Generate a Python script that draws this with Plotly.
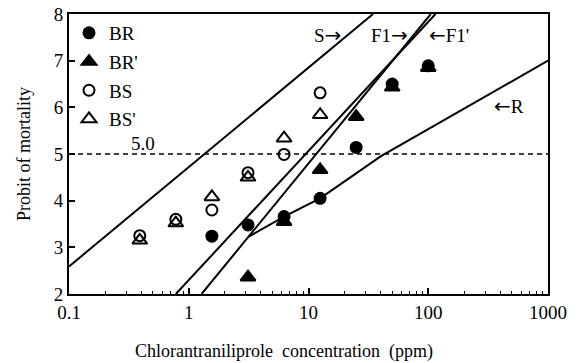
import math
import plotly.graph_objects as go

# ---- data ----
conc = [0.39, 0.78, 1.56, 3.125, 6.25, 12.5, 25, 50, 100]

BR_x = [1.56, 3.125, 6.25, 12.5, 25, 50, 100]
BR_y = [3.24, 3.48, 3.66, 4.05, 5.14, 6.50, 6.89]

BRp_x = [3.125, 6.25, 12.5, 25, 50, 100]
BRp_y = [2.36, 3.55, 4.66, 5.80, 6.43, 6.85]

BS_x = [0.39, 0.78, 1.56, 3.125, 6.25, 12.5]
BS_y = [3.25, 3.60, 3.80, 4.60, 4.99, 6.31]

BSp_x = [0.39, 0.78, 1.56, 3.125, 6.25, 12.5]
BSp_y = [3.15, 3.52, 4.08, 4.50, 5.34, 5.84]

# regression lines (end points)
S_x = [0.1, 34.6]
S_y = [2.59, 8.0]
F1_x = [1.28, 105]
F1_y = [2.0, 8.0]
F1p_x = [0.78, 115]
F1p_y = [2.0, 8.0]
R_x = [3.125, 6.25, 12.5, 40, 1000]
R_y = [3.22, 3.66, 4.05, 4.95, 7.0]

LC50_PROBIT = 5.0

tick_vals = [0.1, 1, 10, 100, 1000]
tick_text = ["0.1", "1", "10", "100", "1000"]

RA = "<span style='font-family:DejaVu Sans;font-size:20px'>\u2192</span>"
LA = "<span style='font-family:DejaVu Sans;font-size:20px'>\u2190</span>"
label_text = ["S" + RA, "F1" + RA, LA + "F1'", LA + "R", "5.0"]
label_x = [14.3, 47.4, 149, 472, 0.415]
label_y = [7.55, 7.55, 7.55, 6.03, 5.22]

FONT = "Liberation Serif"

fig = go.Figure()

for lx, ly in [(S_x, S_y), (F1_x, F1_y), (F1p_x, F1p_y), (R_x, R_y)]:
    fig.add_trace(go.Scatter(x=lx, y=ly, mode="lines",
                             line=dict(color="black", width=2),
                             showlegend=False, hoverinfo="skip"))

series = [
    ("BR", BR_x, BR_y, "circle"),
    ("BR'", BRp_x, BRp_y, "triangle-up"),
    ("BS", BS_x, BS_y, "circle-open"),
    ("BS'", BSp_x, BSp_y, "triangle-up-open"),
]
for name, sx, sy, sym in series:
    size = 11 if "circle" in sym else 13
    fig.add_trace(go.Scatter(
        x=sx, y=sy, mode="markers", name=name, legendgroup=name,
        marker=dict(symbol=sym, size=size, color="black",
                    line=dict(color="black", width=2)),
    ))

fig.add_hline(y=LC50_PROBIT, line=dict(color="black", width=1.3, dash="5px,4px"))

# annotations on a log axis take log10 positions
for txt, x, y in zip(label_text, label_x, label_y):
    fig.add_annotation(x=math.log10(x), y=y, text=txt, showarrow=False,
                       xref="x", yref="y", xanchor="center", yanchor="middle",
                       font=dict(family=FONT, size=19, color="black"))

fig.add_annotation(x=0.449, y=-0.207, xref="paper", yref="paper",
                   text="Chlorantraniliprole\u00a0 concentration\u00a0 (ppm)",
                   showarrow=False, xanchor="center", yanchor="middle",
                   font=dict(family=FONT, size=18, color="black"))

fig.update_layout(
    width=582, height=363,
    margin=dict(l=69, r=34, t=14, b=69),
    paper_bgcolor="white", plot_bgcolor="white",
    font=dict(family=FONT, size=18, color="black"),
    legend=dict(x=0.0, y=1.0, xanchor="left", yanchor="top",
                bgcolor="rgba(0,0,0,0)", tracegroupgap=1,
                font=dict(family=FONT, size=19), itemwidth=30),
    xaxis=dict(type="log", range=[-1, 3], showgrid=False, zeroline=False,
               automargin=False,
               showline=True, linecolor="black", linewidth=2, mirror=True,
               ticks="inside", ticklen=6, tickwidth=1.5, tickcolor="black",
               tickvals=tick_vals, ticktext=tick_text,
               minor=dict(ticks="inside", ticklen=3, tickwidth=1.2,
                          tickcolor="black", dtick="D1", showgrid=False),
               tickfont=dict(family=FONT, size=19)),
    yaxis=dict(range=[2, 8], dtick=1, showgrid=False, zeroline=False,
               automargin=False,
               showline=True, linecolor="black", linewidth=2, mirror=True,
               ticks="inside", ticklen=6, tickwidth=1.5, tickcolor="black",
               tickfont=dict(family=FONT, size=19),
               title=dict(text="Probit of mortality", standoff=18,
                          font=dict(family=FONT, size=18))),
)

fig.write_html("out.html")
